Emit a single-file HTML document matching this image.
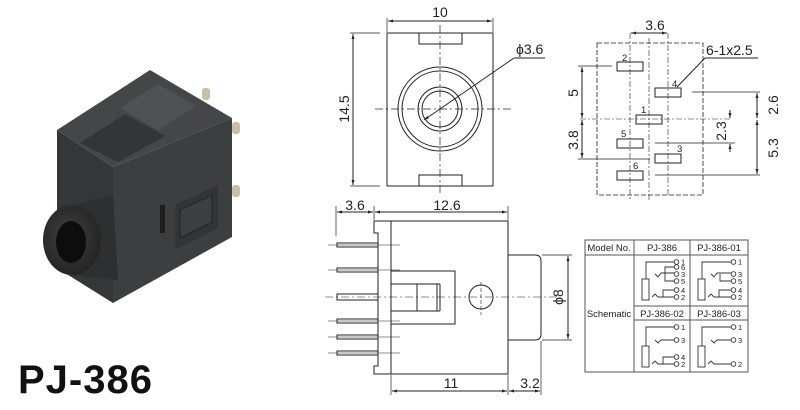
<!DOCTYPE html>
<html><head><meta charset="utf-8"><style>
html,body{margin:0;padding:0;background:#fff;}
svg{display:block;}
text{font-family:"Liberation Sans",Arial,sans-serif;fill:#222;}
</style></head><body>
<svg width="800" height="410" viewBox="0 0 800 410" xmlns="http://www.w3.org/2000/svg">
<defs>
<marker id="a" viewBox="0 0 10 10" refX="10" refY="5" markerWidth="7" markerHeight="5" orient="auto-start-reverse"><path d="M0,2 L10,5 L0,8 z" fill="#222"/></marker>
<radialGradient id="barrel" cx="0.45" cy="0.45" r="0.6"><stop offset="0" stop-color="#404142"/><stop offset="1" stop-color="#222"/></radialGradient>
</defs>

<!-- ===== Photo ===== -->
<g>
<polygon points="57,130 150,70 232,118 113,167" fill="#454647"/>
<polygon points="120,108 158,84 196,106 158,130" fill="#505152"/>
<polygon points="80,143 125,114 165,136 118,162" fill="#343536"/>
<polygon points="57,130 113,167 113,303 57,268" fill="#353637"/>
<polygon points="113,167 232,118 232,237 113,303" fill="#3d3e3f"/>
<polygon points="175,205 218,185 218,228 175,250" fill="#333435"/>
<polygon points="180,210 212,195 212,222 180,238" fill="#3e3f40" stroke="#2a2a2a" stroke-width="1.5"/>
<rect x="160" y="205" width="5" height="28" fill="#1e1e1e"/>
<rect x="202" y="88" width="8" height="12" rx="3" fill="#c9bfa8"/>
<rect x="232" y="122" width="8" height="12" rx="3" fill="#c9bfa8"/>
<rect x="232" y="185" width="8" height="12" rx="3" fill="#c9bfa8"/>
<polygon points="73,205 113,195 118,280 73,275" fill="#2e2f30"/>
<ellipse cx="72" cy="240" rx="29" ry="35" fill="url(#barrel)"/>
<ellipse cx="71" cy="242" rx="15" ry="21" fill="#0d0d0d"/>
<text x="18" y="393" font-size="40" font-weight="bold" style="fill:#111;letter-spacing:1px">PJ-386</text>
</g>

<g fill="none" stroke="#222" stroke-width="1">
<rect x="387" y="33" width="106" height="153"/>
<rect x="419" y="33" width="43" height="11"/>
<rect x="419" y="175" width="43" height="11"/>
<circle cx="440" cy="109" r="42"/>
<circle cx="440" cy="109" r="38"/>
<circle cx="440" cy="109" r="22"/>
<circle cx="440" cy="109" r="18"/>
<line x1="440" y1="25" x2="440" y2="195" stroke-dasharray="8,3,2,3" stroke-width="0.7"/>
<line x1="375" y1="109" x2="512" y2="109" stroke-dasharray="8,3,2,3" stroke-width="0.7"/>
<line x1="387" y1="18" x2="387" y2="32" stroke-width="0.7"/>
<line x1="493" y1="18" x2="493" y2="32" stroke-width="0.7"/>
<line x1="388" y1="21" x2="492" y2="21" marker-start="url(#a)" marker-end="url(#a)"/>
<line x1="350" y1="33" x2="380" y2="33" stroke-width="0.7"/>
<line x1="350" y1="186" x2="380" y2="186" stroke-width="0.7"/>
<line x1="353" y1="34" x2="353" y2="185" marker-start="url(#a)" marker-end="url(#a)"/>
<line x1="424" y1="120" x2="514" y2="58" marker-start="url(#a)"/>
<line x1="514" y1="58" x2="545" y2="58"/>

<rect x="597" y="43" width="106" height="152" stroke-dasharray="5,2" stroke-width="0.8"/>
<line x1="630" y1="33" x2="630" y2="200" stroke-dasharray="6,2,2,2" stroke-width="0.6"/>
<line x1="649" y1="38" x2="649" y2="200" stroke-dasharray="6,2,2,2" stroke-width="0.6"/>
<line x1="668" y1="33" x2="668" y2="195" stroke-dasharray="6,2,2,2" stroke-width="0.6"/>
<line x1="580" y1="119" x2="730" y2="119" stroke-dasharray="6,2,2,2" stroke-width="0.6"/>
<rect x="617" y="62" width="26" height="9"/>
<rect x="655" y="88" width="26" height="9"/>
<rect x="636" y="115" width="26" height="9"/>
<rect x="617" y="139" width="26" height="9"/>
<rect x="655" y="154" width="26" height="9"/>
<rect x="617" y="171" width="26" height="9"/>
<line x1="631" y1="33" x2="667" y2="33" marker-start="url(#a)" marker-end="url(#a)"/>
<line x1="677" y1="87" x2="705" y2="58"/>
<line x1="705" y1="58" x2="758" y2="58"/>
<line x1="578" y1="66" x2="612" y2="66" stroke-width="0.7"/>
<line x1="578" y1="159" x2="650" y2="159" stroke-width="0.7"/>
<line x1="582" y1="67" x2="582" y2="118" marker-start="url(#a)" marker-end="url(#a)"/>
<line x1="582" y1="120" x2="582" y2="158" marker-start="url(#a)" marker-end="url(#a)"/>
<line x1="692" y1="92" x2="760" y2="92" stroke-width="0.7"/>
<line x1="655" y1="143" x2="735" y2="143" stroke-width="0.7"/>
<line x1="655" y1="175" x2="760" y2="175" stroke-width="0.7"/>
<line x1="757" y1="93" x2="757" y2="118" marker-start="url(#a)" marker-end="url(#a)"/>
<line x1="757" y1="120" x2="757" y2="174" marker-start="url(#a)" marker-end="url(#a)"/>
<line x1="730" y1="110" x2="730" y2="118" marker-end="url(#a)"/>
<line x1="730" y1="152" x2="730" y2="144" marker-end="url(#a)"/>

<path d="M374,221 H391 V374 H374 V366 H378 V233 H374 Z"/>
<rect x="391" y="221" width="117" height="153"/>
<path d="M391,271 H455 V324 H391"/>
<rect x="391" y="284" width="46" height="27"/>
<line x1="417" y1="284" x2="417" y2="311"/>
<line x1="440" y1="284" x2="440" y2="311"/>
<line x1="437" y1="284" x2="440" y2="284"/><line x1="437" y1="311" x2="440" y2="311"/>
<circle cx="481" cy="297" r="12"/>
<line x1="481" y1="282" x2="481" y2="315" stroke-dasharray="4,2" stroke-width="0.6"/>
<line x1="325" y1="297" x2="560" y2="297" stroke-dasharray="8,3,2,3" stroke-width="0.6"/>
<path d="M508,255 H535 Q541,255 541,261 V334 Q541,340 535,340 H508"/>
<g>
<rect x="337" y="243" width="41" height="4"/>
<rect x="337" y="268" width="41" height="4"/>
<rect x="337" y="294" width="41" height="6"/>
<rect x="337" y="319" width="41" height="4"/>
<rect x="337" y="335" width="41" height="4"/>
<rect x="337" y="351" width="41" height="4"/>
<line x1="328" y1="245" x2="400" y2="245" stroke-width="0.5"/>
<line x1="328" y1="270" x2="400" y2="270" stroke-width="0.5"/>
<line x1="328" y1="321" x2="400" y2="321" stroke-width="0.5"/>
<line x1="328" y1="337" x2="400" y2="337" stroke-width="0.5"/>
<line x1="328" y1="353" x2="400" y2="353" stroke-width="0.5"/>
</g>
<line x1="336" y1="206" x2="336" y2="236" stroke-width="0.7"/>
<line x1="374" y1="206" x2="374" y2="220" stroke-width="0.7"/>
<line x1="508" y1="206" x2="508" y2="220" stroke-width="0.7"/>
<line x1="337" y1="212" x2="373" y2="212" marker-start="url(#a)" marker-end="url(#a)"/>
<line x1="375" y1="212" x2="507" y2="212" marker-start="url(#a)" marker-end="url(#a)"/>
<line x1="391" y1="375" x2="391" y2="395" stroke-width="0.7"/>
<line x1="508" y1="375" x2="508" y2="395" stroke-width="0.7"/>
<line x1="541" y1="341" x2="541" y2="395" stroke-width="0.7"/>
<line x1="392" y1="391" x2="507" y2="391" marker-start="url(#a)" marker-end="url(#a)"/>
<line x1="509" y1="391" x2="540" y2="391" marker-start="url(#a)" marker-end="url(#a)"/>
<line x1="542" y1="255" x2="572" y2="255" stroke-width="0.7"/>
<line x1="542" y1="340" x2="572" y2="340" stroke-width="0.7"/>
<line x1="568" y1="256" x2="568" y2="339" marker-start="url(#a)" marker-end="url(#a)"/>

<rect x="585" y="240" width="163" height="132" stroke="#555"/>
<line x1="585" y1="255" x2="748" y2="255" stroke="#555"/>
<line x1="634" y1="240" x2="634" y2="372" stroke="#555"/>
<line x1="690" y1="240" x2="690" y2="372" stroke="#555"/>
<line x1="634" y1="306" x2="748" y2="306" stroke="#555"/>
<line x1="634" y1="320" x2="748" y2="320" stroke="#555"/>
</g>

<g fill="none" stroke="#333" stroke-width="0.9">
<path d="M646,279 V262 H674"/><circle cx="676.5" cy="262" r="2.3"/>
<rect x="642" y="279" width="7" height="21"/>
<path d="M655,274 l3,3 l3,-4 H674 M665,274 V267 H674 M665,274 V281 H674"/>
<circle cx="676.5" cy="267" r="2.3"/><circle cx="676.5" cy="274" r="2.3"/><circle cx="676.5" cy="281" r="2.3"/>
<path d="M652,297 l3,-3 l3,3 H674 M663,297 V290 H674"/>
<circle cx="676.5" cy="290" r="2.3"/><circle cx="676.5" cy="297" r="2.3"/>
<path d="M702,279 V262 H731"/><circle cx="733.5" cy="262" r="2.3"/>
<rect x="698" y="279" width="7" height="21"/>
<path d="M711,274 l3,3 l3,-4 H731 M720,274 V281 H731"/>
<circle cx="733.5" cy="274" r="2.3"/><circle cx="733.5" cy="281" r="2.3"/>
<path d="M708,297 l3,-3 l3,3 H731 M719,297 V290 H731"/>
<circle cx="733.5" cy="290" r="2.3"/><circle cx="733.5" cy="297" r="2.3"/>
<path d="M646,346 V327 H674"/><circle cx="676.5" cy="327" r="2.3"/>
<rect x="642" y="346" width="7" height="21"/>
<path d="M655,340 l3,3 l3,-3 H674"/><circle cx="676.5" cy="340" r="2.3"/>
<path d="M652,364 l3,-3 l3,3 H674 M663,364 V357 H674"/>
<circle cx="676.5" cy="357" r="2.3"/><circle cx="676.5" cy="364" r="2.3"/>
<path d="M702,346 V327 H731"/><circle cx="733.5" cy="327" r="2.3"/>
<rect x="698" y="346" width="7" height="21"/>
<path d="M711,340 l3,3 l3,-3 H731"/><circle cx="733.5" cy="340" r="2.3"/>
<path d="M708,364 l3,-3 l3,3 H731"/><circle cx="733.5" cy="364" r="2.3"/>
</g>

<g font-size="14">
<text x="440" y="17" text-anchor="middle">10</text>
<text transform="translate(349,109) rotate(-90)" text-anchor="middle">14.5</text>
<text x="516" y="54">ϕ3.6</text>
<text x="655" y="30" text-anchor="middle">3.6</text>
<text x="706" y="55">6-1x2.5</text>
<text transform="translate(578,93) rotate(-90)" text-anchor="middle">5</text>
<text transform="translate(578,140) rotate(-90)" text-anchor="middle">3.8</text>
<text transform="translate(778,105) rotate(-90)" text-anchor="middle">2.6</text>
<text transform="translate(778,148) rotate(-90)" text-anchor="middle">5.3</text>
<text transform="translate(726,131) rotate(-90)" text-anchor="middle">2.3</text>
<text x="355" y="210" text-anchor="middle">3.6</text>
<text x="447" y="210" text-anchor="middle">12.6</text>
<text x="451" y="388" text-anchor="middle">11</text>
<text x="530" y="388" text-anchor="middle">3.2</text>
<text transform="translate(563,297) rotate(-90)" text-anchor="middle">ϕ8</text>
</g>
<g font-size="9.5">
<text x="622" y="61">2</text><text x="672" y="87">4</text><text x="641" y="113">1</text>
<text x="621" y="137">5</text><text x="677" y="152">3</text><text x="633" y="169">6</text>
</g>
<g font-size="9.5">
<text x="609" y="251" text-anchor="middle">Model No.</text>
<text x="662" y="251" text-anchor="middle">PJ-386</text>
<text x="719" y="251" text-anchor="middle">PJ-386-01</text>
<text x="609" y="317" text-anchor="middle">Schematic</text>
<text x="662" y="317" text-anchor="middle">PJ-386-02</text>
<text x="719" y="317" text-anchor="middle">PJ-386-03</text>
</g>
<g font-size="7.5">
<text x="681" y="264.5">1</text><text x="681" y="270">6</text><text x="681" y="277">3</text><text x="681" y="284">5</text><text x="681" y="293">4</text><text x="681" y="300">2</text>
<text x="738" y="264.5">1</text><text x="738" y="277">3</text><text x="738" y="284">5</text><text x="738" y="293">4</text><text x="738" y="300">2</text>
<text x="681" y="330">1</text><text x="681" y="343">3</text><text x="681" y="360">4</text><text x="681" y="367">2</text>
<text x="738" y="330">1</text><text x="738" y="343">3</text><text x="738" y="367">2</text>
</g>
</svg>
</body></html>
